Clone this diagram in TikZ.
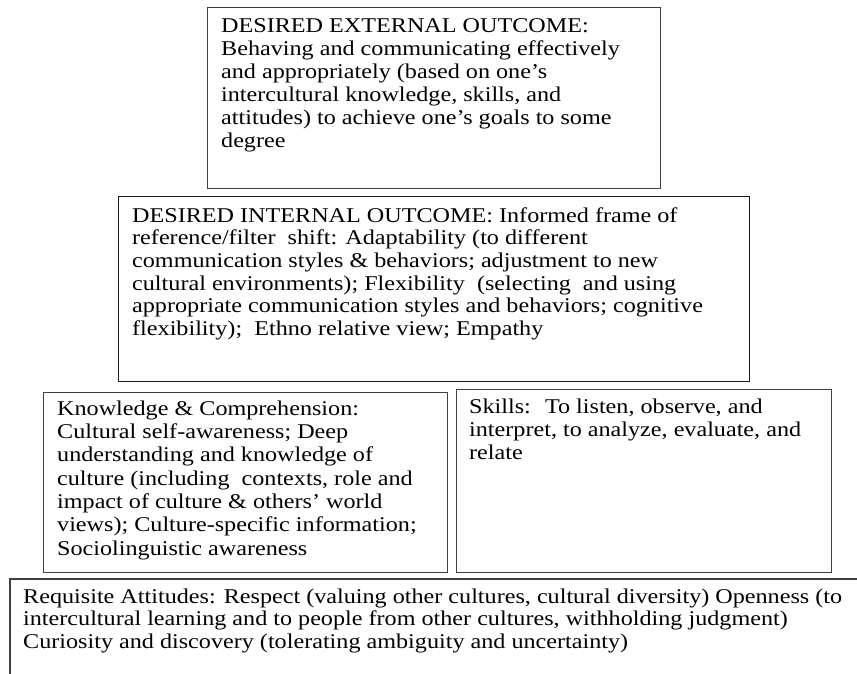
\documentclass[tikz,border=0pt]{standalone}
\usepackage{fontspec}
\setmainfont{Liberation Serif}[FakeStretch=1.15]
\begin{document}
\begin{tikzpicture}[x=1pt,y=1pt,
  boxst/.style={draw=black!75, line width=1.2pt, inner sep=0pt, anchor=north west},
  txt/.style={anchor=north west, inner sep=0pt, align=left},
  lsA/.style={font=\fontsize{21}{23.1}\selectfont},
  lsB/.style={font=\fontsize{21}{22.7}\selectfont},
  lsC/.style={font=\fontsize{21}{23.3}\selectfont},
  lsD/.style={font=\fontsize{21}{22.6}\selectfont}]
\useasboundingbox (0,0) rectangle (857,674);
% boxes
\node[boxst, minimum width=453pt, minimum height=181pt] (ext) at (207,667) {};
\node[boxst, draw=black!90, minimum width=631pt, minimum height=185pt] (int) at (118,478) {};
\node[boxst, minimum width=404pt, minimum height=180pt] (know) at (43,282) {};
\node[boxst, minimum width=375pt, minimum height=183pt] (skill) at (456,285) {};
\coordinate (attR) at (857,95);
\coordinate (attTL) at (10,95);
\coordinate (attB) at (10,0);
\draw[draw=black!75, line width=1.2pt] (attR) -- (attTL) -- (attB);
% texts
\node[txt, lsA] (exttext) at (221,658.2) {\strut DESIRED EXTERNAL OUTCOME:\\
Behaving and communicating effectively\\
and appropriately (based on one’s\\
intercultural knowledge, skills, and\\
attitudes) to achieve one’s goals to some\\
degree};
\node[txt, lsB] (inttext) at (132,467.9) {\strut DESIRED INTERNAL OUTCOME: Informed frame of\\
reference/filter~ shift: Adaptability (to different\\
communication styles \& behaviors; adjustment to new\\
cultural environments); Flexibility~ (selecting~ and using\\
appropriate communication styles and behaviors; cognitive\\
flexibility);~ Ethno relative view; Empathy};
\node[txt, lsC] (knowtext) at (57,275.3) {\strut Knowledge \& Comprehension:\\
Cultural self-awareness; Deep\\
understanding and knowledge of\\
culture (including~ contexts, role and\\
impact of culture \& others’ world\\
views); Culture-specific information;\\
Sociolinguistic awareness};
\node[txt, lsA] (skilltext) at (469,277.2) {\strut Skills:~ To listen, observe, and\\
interpret, to analyze, evaluate, and\\
relate};
\node[txt, lsD] (atttext) at (23,86.8) {\strut Requisite Attitudes: Respect (valuing other cultures, cultural diversity) Openness (to\\
intercultural learning and to people from other cultures, withholding judgment)\\
Curiosity and discovery (tolerating ambiguity and uncertainty)};
\end{tikzpicture}
\end{document}
